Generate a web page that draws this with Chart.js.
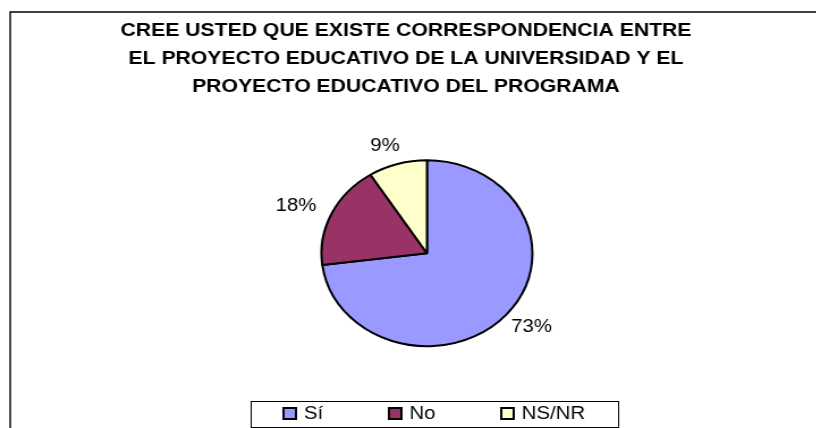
<!DOCTYPE html>
<html>
<head>
<meta charset="utf-8">
<script src="https://cdn.jsdelivr.net/npm/chart.js@4"></script>
<style>
    html, body { margin: 0; padding: 0; background: #fff; overflow: hidden; }
    /* the original chart is stretched horizontally, so draw narrow and stretch */
    #wrap { width: 720px; height: 428px; transform: scaleX(1.134); transform-origin: 0 0; }
</style>
</head>
<body>
<div id="wrap"><canvas id="pieChart" width="720" height="428"></canvas></div>
<script>
// ── Data ─────────────────────────────────────────────────────────────────────

const categories = ['Sí', 'No', 'NS/NR'];
const percentages = [73, 18, 9];
const sliceColors = ['#9999FF', '#993366', '#FFFFCC'];
const titleLines = [
    'CREE USTED QUE EXISTE CORRESPONDENCIA ENTRE',
    'EL PROYECTO EDUCATIVO DE LA UNIVERSIDAD Y EL',
    'PROYECTO EDUCATIVO DEL PROGRAMA'
];

const FONT = '"Liberation Sans", Arial, sans-serif';

// ── Plugins ──────────────────────────────────────────────────────────────────

// outer frame + title
const framePlugin = {
    id: 'frame',
    beforeDraw(chart) {
        const ctx = chart.ctx;
        ctx.save();
        ctx.strokeStyle = '#000';
        ctx.lineWidth = 1.4;
        ctx.beginPath();
        ctx.moveTo(9, 440);
        ctx.lineTo(9, 12);
        ctx.lineTo(740, 12);
        ctx.stroke();

        ctx.fillStyle = '#000';
        ctx.font = 'bold 18.7px ' + FONT;
        ctx.textAlign = 'center';
        ctx.textBaseline = 'middle';
        titleLines.forEach((line, i) => ctx.fillText(line, 358, 31 + i * 28));
        ctx.restore();
    }
};

// percentage labels just outside each slice
const labelPlugin = {
    id: 'sliceLabels',
    afterDatasetsDraw(chart) {
        const ctx = chart.ctx;
        const meta = chart.getDatasetMeta(0);
        ctx.save();
        ctx.font = '18px ' + FONT;
        ctx.fillStyle = '#000';
        ctx.textAlign = 'center';
        ctx.textBaseline = 'middle';
        meta.data.forEach((arc, i) => {
            const mid = (arc.startAngle + arc.endAngle) / 2;
            const cx = Math.cos(mid), cy = Math.sin(mid);
            const text = percentages[i] + '%';
            const w = ctx.measureText(text).width;
            const r = arc.outerRadius * 1.13;
            const x = arc.x + cx * r + cx * w / 2 - (cx < 0 ? 4 : 0);
            const y = arc.y + cy * r + cy * 7;
            ctx.fillText(text, x, y);
        });
        ctx.restore();
    }
};

// boxed legend at the bottom
const legendPlugin = {
    id: 'boxLegend',
    afterDraw(chart) {
        const ctx = chart.ctx;
        const colors = chart.data.datasets[0].backgroundColor;
        const left = 221, top = 401, sq = 11, gap = 7, spacing = 58;
        ctx.save();
        ctx.font = '18px ' + FONT;
        ctx.textBaseline = 'middle';
        let x = left + 29;
        chart.data.labels.forEach((label, i) => {
            ctx.fillStyle = colors[i];
            ctx.fillRect(x, top + 7, sq, sq);
            ctx.strokeStyle = '#000';
            ctx.lineWidth = 2;
            ctx.strokeRect(x, top + 7, sq, sq);
            ctx.fillStyle = '#000';
            ctx.fillText(label, x + sq + gap, top + 13.5);
            x += sq + gap + ctx.measureText(label).width + spacing;
        });
        const right = x - spacing + 29;
        ctx.strokeStyle = '#000';
        ctx.lineWidth = 1;
        ctx.strokeRect(left + 0.5, top + 0.5, right - left, 26);
        ctx.restore();
    }
};

// ── Chart ────────────────────────────────────────────────────────────────────

new Chart(document.getElementById('pieChart'), {
    type: 'pie',
    data: {
        labels: categories,
        datasets: [{
            data: percentages,
            backgroundColor: sliceColors,
            borderColor: '#000',
            borderWidth: 2
        }]
    },
    options: {
        responsive: false,
        animation: false,
        layout: { padding: { left: 282.5, right: 249.5, top: 159.3, bottom: 80.7 } },
        plugins: {
            legend: { display: false },
            title: { display: false },
            tooltip: { enabled: false }
        }
    },
    plugins: [framePlugin, labelPlugin, legendPlugin]
});
</script>
</body>
</html>
